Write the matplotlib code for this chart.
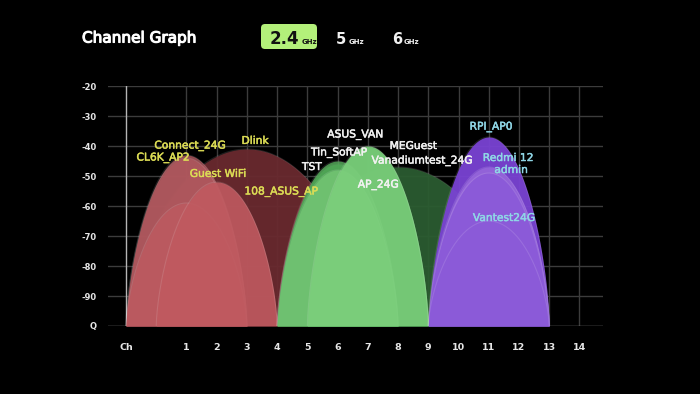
import numpy as np
import matplotlib
matplotlib.use("Agg")
import matplotlib.pyplot as plt
from matplotlib.patches import FancyBboxPatch
import matplotlib.patheffects as pe

# ---------------- data ----------------
networks = ["Dlink", "Connect_24G", "CL6K_AP2", "108_ASUS_AP", "Guest WiFi",
            "Vanadiumtest_24G", "MEGuest", "TST", "Tin_SoftAP", "AP_24G", "ASUS_VAN",
            "RPI_AP0", "Redmi 12", "admin", "Vantest24G"]
channels = [3, 1, 1, 1, 2,
            8, 7, 6, 6, 6, 7,
            11, 11, 11, 11]
bandwidth_mhz = [40, 20, 20, 20, 20,
                 40, 20, 20, 20, 20, 20,
                 20, 20, 20, 20]
signal_dbm = [-41, -43, -44, -59, -52,
              -47, -40.5, -46, -45, -48, -40,
              -37, -47, -49, -65]
groups = ["red"] * 5 + ["green"] * 6 + ["purple"] * 4

# label anchor positions (channel units, dBm)
label_x = [3.27, 1.12, 0.22, 4.13, 2.04,
           8.79, 8.5, 5.15, 6.05, 7.34, 6.58,
           11.07, 11.64, 11.74, 11.5]
label_y = [-38.3, -40.0, -44.0, -55.3, -49.3,
           -45.0, -40.0, -47.0, -42.3, -53.0, -36.3,
           -33.7, -44.0, -48.0, -64.0]

y_ticks = [-100, -90, -80, -70, -60, -50, -40, -30, -20]
y_tick_labels = ["Q", "-90", "-80", "-70", "-60", "-50", "-40", "-30", "-20"]
x_ticks = [-1, 1, 2, 3, 4, 5, 6, 7, 8, 9, 10, 11, 12, 13, 14]
x_tick_labels = ["Ch", "1", "2", "3", "4", "5", "6", "7", "8", "9", "10", "11", "12", "13", "14"]

bands = ["2.4", "5", "6"]

# ---------------- styles ----------------
fill_colors = ["#6a2a2f", "#a9545a", "#b0585e", "#bd5a60", "#c05a60",
               "#2b5c31", "#2f8e3c", "#2f9a3e", "#55a85a", "#74c675", "#7ccf7c",
               "#7a43d4", "#9a6cdd", "#8a58d8", "#8c5ad9"]
fill_alpha = [0.95, 0.85, 0.85, 0.85, 0.9,
              0.95, 0.9, 0.9, 0.85, 0.85, 0.9,
              0.95, 0.8, 0.8, 0.75]
label_colors = {"red": "#dcdc55", "green": "#f2f2f2", "purple": "#8fd6e6"}

W, H = 700, 394
fig = plt.figure(figsize=(W / 100, H / 100), dpi=100, facecolor="black")

# main axes, placed by pixel
px_left, px_right, px_top, px_bottom = 108, 603, 86, 326
ax = fig.add_axes([px_left / W, 1 - px_bottom / H, (px_right - px_left) / W, (px_bottom - px_top) / H])
ax.set_facecolor("black")
ppc = 30.23
ax.set_xlim(-1 - (126 - px_left) / ppc, -1 + (px_right - 126) / ppc)
ax.set_ylim(-100, -20)
for s in ax.spines.values():
    s.set_visible(False)

# grid
for yv in y_ticks[1:]:
    ax.axhline(yv, color="#3c3c3c", lw=1.0, zorder=0)
ax.axhline(-100, color="#8c8c8c", lw=1.0, zorder=0.5)
for xv in x_ticks[1:]:
    ax.plot([xv, xv], [-100, -20], color="#3c3c3c", lw=1.0, zorder=0)
ax.plot([-1, -1], [-100, -20], color="#b5b5b5", lw=1.0, zorder=0.6)

# network arcs
p_exp = 0.65
for i, name in enumerate(networks):
    hw = 2.0 if bandwidth_mhz[i] == 20 else 4.0
    c = channels[i]
    xs = np.linspace(c - hw, c + hw, 300)
    u = np.clip(1 - ((xs - c) / hw) ** 2, 0, 1)
    ys = -100 + (signal_dbm[i] + 100) * u ** p_exp
    ax.fill_between(xs, -100, ys, color=fill_colors[i], alpha=fill_alpha[i], lw=0, zorder=2 + i * 0.01)
    ax.plot(xs, ys, color="white", alpha=0.12, lw=0.8, zorder=2 + i * 0.01 + 0.005)

for i, name in enumerate(networks):
    col = label_colors[groups[i]]
    ax.text(label_x[i], label_y[i], name, color=col, fontsize=7.7,
            family="DejaVu Sans", ha="center", va="center", zorder=10,
            path_effects=[pe.withStroke(linewidth=0.35, foreground=col)])

ax.set_yticks(y_ticks)
ax.set_yticklabels(y_tick_labels)
ax.set_xticks(x_ticks)
ax.set_xticklabels(x_tick_labels)
ax.tick_params(axis="y", length=0, pad=8, labelsize=6, labelcolor="#e6e6e6")
ax.tick_params(axis="x", length=0, pad=12, labelsize=6.8, labelcolor="#e6e6e6")
for t in ax.get_yticklabels() + ax.get_xticklabels():
    t.set_fontweight("bold")

# overlay in pixel units for header
ov = fig.add_axes([0, 0, 1, 1])
ov.set_xlim(0, W)
ov.set_ylim(H, 0)
ov.axis("off")
ov.patch.set_alpha(0)

ov.text(82, 38, "Channel Graph", color="white", fontsize=11, family="DejaVu Sans",
        ha="left", va="center",
        path_effects=[pe.withStroke(linewidth=0.8, foreground="white")])

btn = FancyBboxPatch((261, 24), 56, 25, boxstyle="round,pad=0,rounding_size=4",
                     facecolor="#b3f07a", edgecolor="none")
ov.add_patch(btn)

band_x = [270, 336, 392]
for j, b in enumerate(bands):
    col = "#111111" if j == 0 else "#f0f0f0"
    size = 12 if j == 0 else 10.5
    t = ov.text(band_x[j], 43.5, b, color=col, fontsize=size, fontweight="bold",
                family="DejaVu Sans", ha="left", va="baseline")
    fig.canvas.draw()
    bb = t.get_window_extent()
    x_end = bb.x1
    ov.text(x_end + 2, 43.5, "GHz", color=col, fontsize=5, fontweight="bold",
            family="DejaVu Sans", ha="left", va="baseline")

fig.savefig("out.png", dpi=100, facecolor="black")
